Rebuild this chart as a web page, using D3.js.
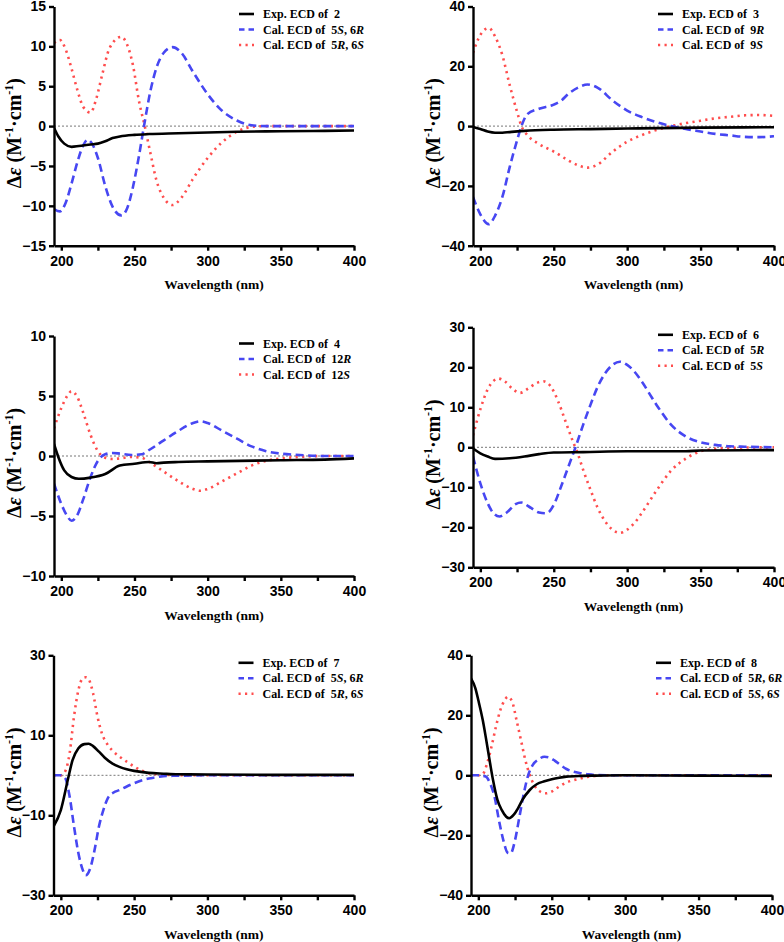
<!DOCTYPE html>
<html>
<meta charset="utf-8">
<head>
<style>
body { margin: 0; background: #fff; }
.axis path, .axis line { stroke: #000; stroke-width: 2.4px; }
.axis text { font: bold 14px "Liberation Sans", Arial, sans-serif; fill: #000; }
.xlabel { font: bold 13.5px "Liberation Serif", "Times New Roman", serif; }
.ylabel { font: bold 20px "Liberation Serif", "Times New Roman", serif; }
.legend text { font: bold 12px "Liberation Serif", "Times New Roman", serif; white-space: pre; }
.zero { stroke: #777; stroke-width: 1; stroke-dasharray: 2 2; }
</style>
</head>
<body>
<svg width="784" height="942"></svg>
<script src="https://d3js.org/d3.v7.min.js"></script>
<script>

// x axis: wavelength in nm
var wlTicks = [200, 225, 250, 275, 300, 325, 350, 375, 400];

// panel 1 : compound 2
var p1Exp = [[195,-0.2],[198,-1.3],[202,-2.2],[207,-2.6],[212,-2.5],[220,-2.3],[225,-2.2],[230,-1.9],[235,-1.5],[240,-1.3],[250,-1.1],[260,-1.0],[280,-0.9],[300,-0.8],[320,-0.7],[350,-0.65],[380,-0.6],[400,-0.55]];
var p1CalA = [[195,-10.4],[199,-10.7],[203,-9.6],[207,-7.2],[211,-4.5],[215,-2.4],[218,-1.7],[221,-2.2],[225,-4.0],[230,-7.5],[235,-10.1],[241,-11.2],[245,-10.3],[249,-7.6],[253,-3.8],[256.5,0],[261,4.5],[265,7.3],[270,9.2],[276,9.9],[282,9.2],[290,6.8],[300,4.0],[310,1.9],[320,0.7],[330,0.1],[340,0],[400,0]];
var p1CalB = [[195,10.4],[199,10.8],[203,9.6],[207,7.2],[211,4.5],[215,2.4],[220,1.7],[224,3.5],[228,6.5],[233,9.8],[241,11.2],[245,10.2],[249,7.6],[253,3.2],[257,0],[261,-3.5],[265,-6.8],[270,-9.0],[276,-9.9],[282,-9.0],[290,-6.6],[300,-4.0],[310,-2.0],[320,-0.7],[330,-0.1],[340,0],[400,0]];
var p1Ticks = [-15, -10, -5, 0, 5, 10, 15];
var p1Legend = ["Exp. ECD of  2", "Cal. ECD of  5<i>S</i>, 6<i>R</i>", "Cal. ECD of  5<i>R</i>, 6<i>S</i>"];

// panel 2 : compound 3
var p2Exp = [[195,-0.3],[200,-1.0],[205,-1.8],[210,-2.2],[215,-2.2],[220,-2.0],[230,-1.6],[250,-1.2],[275,-1.0],[300,-0.8],[350,-0.5],[400,-0.4]];
var p2CalA = [[195,-23.7],[200,-29.5],[205.7,-32.8],[210,-30],[215,-23.7],[220,-13.7],[225,-4.8],[228,0],[232,4],[240,5.8],[250,7.2],[255,8.5],[260,10.8],[267,13],[273,13.9],[280,12.8],[290,8.6],[300,5.2],[310,3],[320,1.3],[330,0],[340,-1],[350,-1.8],[360,-2.6],[370,-3.1],[380,-3.6],[390,-3.7],[400,-3.4]];
var p2CalB = [[195,24.5],[200,30.5],[205.7,32.8],[210,30],[215,23.7],[220,13.7],[225,4.8],[228,0],[232,-3],[240,-6],[250,-8.5],[260,-11.5],[267,-13.2],[273,-13.9],[280,-12.8],[290,-8.6],[300,-5.2],[310,-3],[320,-1.3],[330,0],[340,1],[350,1.8],[360,2.6],[370,3.1],[380,3.6],[390,3.7],[400,3.4]];
var p2Ticks = [-40, -20, 0, 20, 40];
var p2Legend = ["Exp. ECD of  3", "Cal. ECD of  9<i>R</i>", "Cal. ECD of  9<i>S</i>"];

// panel 3 : compound 4
var p3Exp = [[195,1.0],[198,-0.1],[202,-1.2],[207,-1.75],[212,-1.9],[220,-1.8],[230,-1.5],[240,-0.8],[250,-0.65],[260,-0.5],[265,-0.6],[270,-0.55],[280,-0.5],[300,-0.45],[350,-0.35],[380,-0.3],[400,-0.2]];
var p3CalA = [[195,-2.3],[200,-4.0],[204,-5.0],[207,-5.4],[211,-4.9],[215,-3.6],[220,-1.75],[225,-0.4],[230,0.14],[235,0.25],[240,0.2],[248,0.08],[255,0.15],[260,0.5],[270,1.3],[280,2.1],[290,2.75],[295,2.9],[300,2.75],[310,2.1],[320,1.45],[330,0.8],[340,0.4],[350,0.2],[360,0.1],[380,0],[400,0]];
var p3CalB = [[195,2.3],[200,4.0],[204,5.0],[207,5.4],[211,4.9],[215,3.6],[220,1.75],[225,0.4],[230,-0.14],[235,-0.25],[240,-0.2],[248,-0.08],[255,-0.15],[260,-0.5],[270,-1.3],[280,-2.1],[290,-2.75],[295,-2.9],[300,-2.75],[310,-2.1],[320,-1.45],[330,-0.8],[340,-0.4],[350,-0.2],[360,-0.1],[380,0],[400,0]];
var p3Ticks = [-10, -5, 0, 5, 10];
var p3Legend = ["Exp. ECD of  4", "Cal. ECD of  12<i>R</i>", "Cal. ECD of  12<i>S</i>"];

// panel 4 : compound 6
var p4Exp = [[195,-0.3],[200,-1.5],[205,-2.3],[210,-2.9],[220,-2.75],[230,-2.3],[240,-1.7],[250,-1.3],[270,-1.2],[300,-1.0],[340,-1.0],[350,-0.8],[400,-0.7]];
var p4CalA = [[195,-2.3],[200,-9],[205,-14],[209,-16.5],[213,-17.3],[218,-16.3],[224,-14.2],[228,-13.8],[233,-14.8],[240,-16.3],[245,-16.5],[250,-14.4],[255,-9.8],[260,-4.8],[265,0.2],[270,5.6],[275,10.6],[280,15.2],[285,18.5],[290,20.6],[295,21.4],[300,20.6],[305,18.9],[310,16.4],[320,10.6],[330,5.6],[340,2.7],[350,1.25],[360,0.6],[370,0.25],[380,0.15],[400,0]];
var p4CalB = [[195,3],[200,9.5],[205,14.5],[209,16.6],[212,17.2],[217,16.4],[222,14.6],[227,13.6],[233,14.8],[238,16.0],[243,16.5],[248,15.2],[253,11.5],[258,6.5],[263,1.5],[266,-1.2],[270,-5.6],[275,-10.6],[280,-15.2],[285,-18.5],[290,-20.6],[295,-21.4],[300,-20.6],[305,-18.9],[310,-16.4],[320,-10.8],[330,-5.8],[340,-2.8],[350,-1.0],[360,-0.4],[370,-0.15],[380,-0.05],[400,0]];
var p4Ticks = [-30, -20, -10, 0, 10, 20, 30];
var p4Legend = ["Exp. ECD of  6", "Cal. ECD of  5<i>R</i>", "Cal. ECD of  5<i>S</i>"];

// panel 5 : compound 7
var p5Exp = [[195,-12.8],[200,-8.7],[205,-0.75],[208,3.8],[212,6.75],[216,7.8],[219,7.9],[222,7.3],[226,5.9],[230,4.4],[235,3],[240,2.1],[245,1.5],[250,1.1],[260,0.6],[270,0.4],[280,0.25],[300,0.2],[350,0.1],[400,0.1]];
var p5CalA = [[195,0],[200,0],[203,-0.75],[206,-5.3],[209,-12.8],[212,-19.5],[215,-23.7],[217,-25],[220,-23.3],[223,-18.7],[226,-12.8],[229,-8.7],[232,-5.75],[236,-4.3],[240,-3.7],[245,-2.8],[250,-2],[255,-1.3],[260,-0.8],[265,-0.5],[270,-0.2],[280,-0.1],[300,0],[400,0]];
var p5CalB = [[195,0],[200,0],[203,1],[206,5.5],[209,14.7],[212,21.3],[215,24.3],[217,24.5],[219,24],[222,20.5],[225,14.7],[228,10.5],[232,7.6],[236,5.9],[240,4.7],[245,3.4],[250,2.2],[255,1.2],[260,0.5],[270,0.15],[280,0],[400,0]];
var p5Ticks = [-30, -10, 10, 30];
var p5Legend = ["Exp. ECD of  7", "Cal. ECD of  5<i>S</i>, 6<i>R</i>", "Cal. ECD of  5<i>R</i>, 6<i>S</i>"];

// panel 6 : compound 8
var p6Exp = [[195,32.3],[198,29],[200,25],[203,18.4],[205,12.9],[208,4],[210,-1.6],[213,-8.2],[216,-11.6],[219,-13.8],[221,-14.3],[224,-13.2],[227,-11],[230,-8.2],[235,-4.9],[240,-2.9],[245,-2],[250,-1.3],[255,-0.8],[260,-0.45],[270,-0.2],[280,-0.1],[300,0],[350,-0.1],[400,-0.2]];
var p6CalA = [[195,0],[200,0],[205,-0.4],[208,-2.7],[211,-7.1],[214,-14.9],[217,-21.6],[220,-25.8],[222,-26],[225,-21.6],[228,-13.8],[231,-6],[234,0.1],[237,3.4],[241,5.3],[245,6.2],[248,6],[252,4.9],[256,3.4],[260,2.1],[265,1.2],[270,0.7],[275,0.3],[280,0.1],[300,0],[400,0]];
var p6CalB = [[195,0],[200,0],[203,0.4],[206,4],[209,9.6],[212,16.2],[215,21.8],[218,25.1],[220,26.2],[223,24.6],[226,18.4],[229,11.8],[232,5.1],[235,0.1],[238,-3.2],[242,-5.4],[246,-6],[250,-5.4],[255,-3.8],[260,-2.4],[265,-1.6],[270,-1],[275,-0.45],[280,-0.2],[290,0],[400,0]];
var p6Ticks = [-40, -20, 0, 20, 40];
var p6Legend = ["Exp. ECD of  8", "Cal. ECD of  5<i>R</i>, 6<i>R</i>", "Cal. ECD of  5<i>S</i>, 6<i>S</i>"];

// plot boxes (pixels) for the six panels
var layout = [
  {x0: 54,   x1: 354, y0: 6.5,   y1: 245.7},
  {x0: 473,  x1: 774, y0: 6.5,   y1: 245.7},
  {x0: 54,   x1: 354, y0: 336,   y1: 576},
  {x0: 473,  x1: 774, y0: 327.3, y1: 567.3},
  {x0: 53.5, x1: 354, y0: 655.3, y1: 895.3},
  {x0: 471,  x1: 772, y0: 655.3, y1: 895.3}
];

var panels = [
  {series: [p1Exp, p1CalA, p1CalB], ticks: p1Ticks, legend: p1Legend},
  {series: [p2Exp, p2CalA, p2CalB], ticks: p2Ticks, legend: p2Legend},
  {series: [p3Exp, p3CalA, p3CalB], ticks: p3Ticks, legend: p3Legend},
  {series: [p4Exp, p4CalA, p4CalB], ticks: p4Ticks, legend: p4Legend},
  {series: [p5Exp, p5CalA, p5CalB], ticks: p5Ticks, legend: p5Legend},
  {series: [p6Exp, p6CalA, p6CalB], ticks: p6Ticks, legend: p6Legend}
];

var styles = [
  {color: "#000", dash: null, legendDash: null},
  {color: "#4747f2", dash: "8 4.5", legendDash: "5.5 4"},
  {color: "#ff4d4d", dash: "2.2 4.3", legendDash: "2.2 4.3"}
];

var svg = d3.select("svg");

// puts plain / italic chunks of "a<i>b</i>c" into a text node
function richText(sel, str) {
  str.split(/(<i>.*?<\/i>)/).forEach(function(part) {
    if (!part) return;
    var it = part.indexOf("<i>") === 0;
    sel.append("tspan")
      .style("font-style", it ? "italic" : "normal")
      .text(it ? part.slice(3, -4) : part);
  });
}

panels.forEach(function(p, i) {
  var box = layout[i];
  var ymax = d3.max(p.ticks);
  var x = d3.scaleLinear().domain([195, 400]).range([box.x0, box.x1]);
  var y = d3.scaleLinear().domain([-ymax, ymax]).range([box.y1, box.y0]);

  var g = svg.append("g");

  g.append("clipPath").attr("id", "clip" + i)
    .append("rect")
    .attr("x", box.x0).attr("y", box.y0 - 2)
    .attr("width", box.x1 - box.x0 + 2).attr("height", box.y1 - box.y0 + 4);

  // zero line
  g.append("line").attr("class", "zero")
    .attr("x1", x(195)).attr("x2", x(400))
    .attr("y1", y(0)).attr("y2", y(0));

  var line = d3.line()
    .x(function(d) { return x(d[0]); })
    .y(function(d) { return y(d[1]); })
    .curve(d3.curveMonotoneX);

  // calculated curves under the experimental one
  [2, 1, 0].forEach(function(k) {
    g.append("path")
      .datum(p.series[k])
      .attr("clip-path", "url(#clip" + i + ")")
      .attr("fill", "none")
      .attr("stroke", styles[k].color)
      .attr("stroke-width", 2.6)
      .attr("stroke-dasharray", styles[k].dash)
      .attr("d", line);
  });

  g.append("g").attr("class", "axis")
    .attr("transform", "translate(0," + box.y1 + ")")
    .call(d3.axisBottom(x).tickValues(wlTicks).tickSize(5).tickSizeOuter(0).tickPadding(5)
      .tickFormat(function(d) { return d % 50 === 0 ? d : ""; }));

  g.append("g").attr("class", "axis")
    .attr("transform", "translate(" + box.x0 + ",0)")
    .call(d3.axisLeft(y).tickValues(p.ticks).tickSize(5).tickSizeOuter(0).tickPadding(3));

  g.append("text").attr("class", "xlabel")
    .attr("x", (box.x0 + box.x1) / 2 + 10)
    .attr("y", box.y1 + 43.5)
    .attr("text-anchor", "middle")
    .text("Wavelength (nm)");

  var yl = g.append("text").attr("class", "ylabel")
    .attr("text-anchor", "middle")
    .attr("transform", "translate(" + (box.x0 - 33) + "," + ((box.y0 + box.y1) / 2 + 7) + ") rotate(-90)");
  yl.append("tspan").text("Δ");
  yl.append("tspan").style("font-style", "italic").text("ε");
  yl.append("tspan").text(" (M");
  yl.append("tspan").attr("dy", -8).style("font-size", "12px").text("-1");
  yl.append("tspan").attr("dy", 8).text("·cm");
  yl.append("tspan").attr("dy", -8).style("font-size", "12px").text("-1");
  yl.append("tspan").attr("dy", 8).text(")");

  var lg = g.append("g").attr("class", "legend")
    .attr("transform", "translate(" + box.x0 + "," + box.y0 + ")");
  p.legend.forEach(function(lab, k) {
    var ry = 7.5 + k * 15.5;
    lg.append("line")
      .attr("x1", 185).attr("x2", 200)
      .attr("y1", ry).attr("y2", ry)
      .attr("stroke", styles[k].color)
      .attr("stroke-width", 2.6)
      .attr("stroke-dasharray", styles[k].legendDash);
    var t = lg.append("text").attr("x", 209).attr("y", ry + 4);
    richText(t, lab);
  });
});
</script>
</body>
</html>
